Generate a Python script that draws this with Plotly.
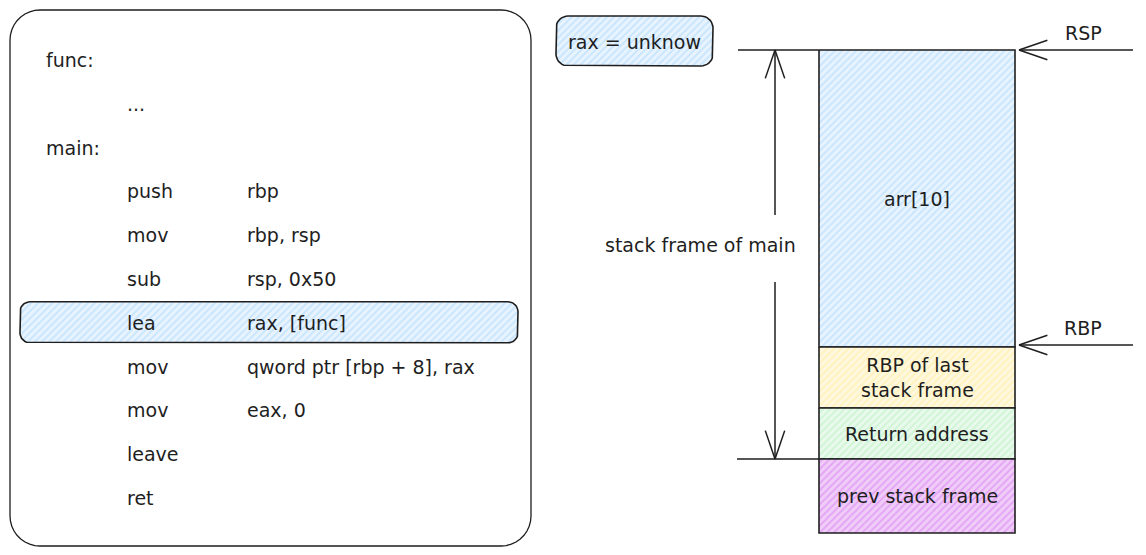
import numpy as np
import plotly.graph_objects as go

# assembly listing
code_ops = ["func:", "...", "main:", "push", "mov", "sub", "lea", "mov", "mov", "leave", "ret"]
code_args = ["", "", "", "rbp", "rbp, rsp", "rsp, 0x50", "rax, [func]",
             "qword ptr [rbp + 8], rax", "eax, 0", "", ""]
highlight_row = 6

# stack blocks, top to bottom
stack_labels = ["arr[10]", "RBP of last<br>stack frame", "Return address", "prev stack frame"]
stack_edges = [50, 347, 408, 459, 533]
stack_colors = ["#a5d8ff", "#ffec99", "#b2f2bb", "#da77f2"]
stack_bg = ["#e8f3fe", "#fff8de", "#e9f9ec", "#efcdf8"]

pointer_names = ["RSP", "RBP"]
pointer_rows = [50, 345]

register_note = "rax = unknow"
frame_label = "stack frame of main"

INK = "#1e1e1e"
FONT = "DejaVu Sans"
PAGE_MARGIN = 8  # the html body has an 8px margin

fig = go.Figure()


def rounded_rect(x0, y0, x1, y1, r):
    pts = []
    corners = [(x1 - r, y0 + r, -90, 0), (x1 - r, y1 - r, 0, 90),
               (x0 + r, y1 - r, 90, 180), (x0 + r, y0 + r, 180, 270)]
    for cx, cy, a0, a1 in corners:
        t = np.radians(np.linspace(a0, a1, 10))
        pts += list(zip(cx + r * np.cos(t), cy + r * np.sin(t)))
    pts.append(pts[0])
    xs, ys = zip(*pts)
    return list(xs), list(ys)


def box(x0, y0, x1, y1, r=0, fg=None, bg=None, width=1.6):
    if r:
        xs, ys = rounded_rect(x0, y0, x1, y1, r)
    else:
        xs, ys = [x0, x1, x1, x0, x0], [y0, y0, y1, y1, y0]
    kw = {}
    if fg:
        kw = dict(fill="toself", fillcolor=bg,
                  fillpattern=dict(shape="/", fgcolor=fg, bgcolor=bg, size=5, solidity=0.35))
    fig.add_trace(go.Scatter(x=xs, y=ys, mode="lines", line=dict(color=INK, width=width),
                             hoverinfo="skip", showlegend=False, **kw))


def line(x0, y0, x1, y1, width=1.5):
    fig.add_trace(go.Scatter(x=[x0, x1], y=[y0, y1], mode="lines",
                             line=dict(color=INK, width=width),
                             hoverinfo="skip", showlegend=False))


def arrow(x0, y0, x1, y1, head=30, spread=0.33):
    # open V head at (x1, y1)
    line(x0, y0, x1, y1)
    ang = np.arctan2(y0 - y1, x0 - x1)
    for s in (-spread, spread):
        line(x1, y1, x1 + head * np.cos(ang + s), y1 + head * np.sin(ang + s))


def text(x, y, s, anchor="left", size=19):
    fig.add_annotation(x=x, y=y, text=s, showarrow=False, xanchor=anchor, yanchor="middle",
                       font=dict(family=FONT, size=size, color=INK), align="center")


# code panel
box(10, 10, 531, 546, r=30, width=1.3)
row_y = [60 + i * 43.8 for i in range(len(code_ops))]
hy = row_y[highlight_row]
box(20, hy - 21, 518, hy + 20, r=10, fg=stack_colors[0], bg=stack_bg[0])
for op, arg, y in zip(code_ops, code_args, row_y):
    x = 44 if op.endswith(":") else 125
    text(x, y, op)
    if arg:
        text(245, y, arg)

# register note
box(556, 16, 713, 66, r=12, fg=stack_colors[0], bg=stack_bg[0])
text(634, 42, register_note, anchor="center")

# stack
for i, lab in enumerate(stack_labels):
    top, bot = stack_edges[i], stack_edges[i + 1]
    box(819, top, 1015, bot, fg=stack_colors[i], bg=stack_bg[i])
    text(917, (top + bot) / 2, lab, anchor="center")

# frame extent
line(738, stack_edges[0], 819, stack_edges[0])
line(737, stack_edges[3], 819, stack_edges[3])
arrow(775, 215, 775, stack_edges[0])
arrow(775, 282, 775, stack_edges[3])
text(700, 245, frame_label, anchor="center")

# pointers
for name, y in zip(pointer_names, pointer_rows):
    arrow(1133, y, 1019, y)
    text(1083, y - 17, name, anchor="center")

W, H = 1146, 555
fig.update_layout(
    width=W - PAGE_MARGIN, height=H - PAGE_MARGIN,
    margin=dict(l=0, r=0, t=0, b=0),
    paper_bgcolor="white", plot_bgcolor="white",
    xaxis=dict(range=[PAGE_MARGIN, W], visible=False, fixedrange=True),
    yaxis=dict(range=[H, PAGE_MARGIN], visible=False, fixedrange=True),
)

fig.write_html("out.html")
